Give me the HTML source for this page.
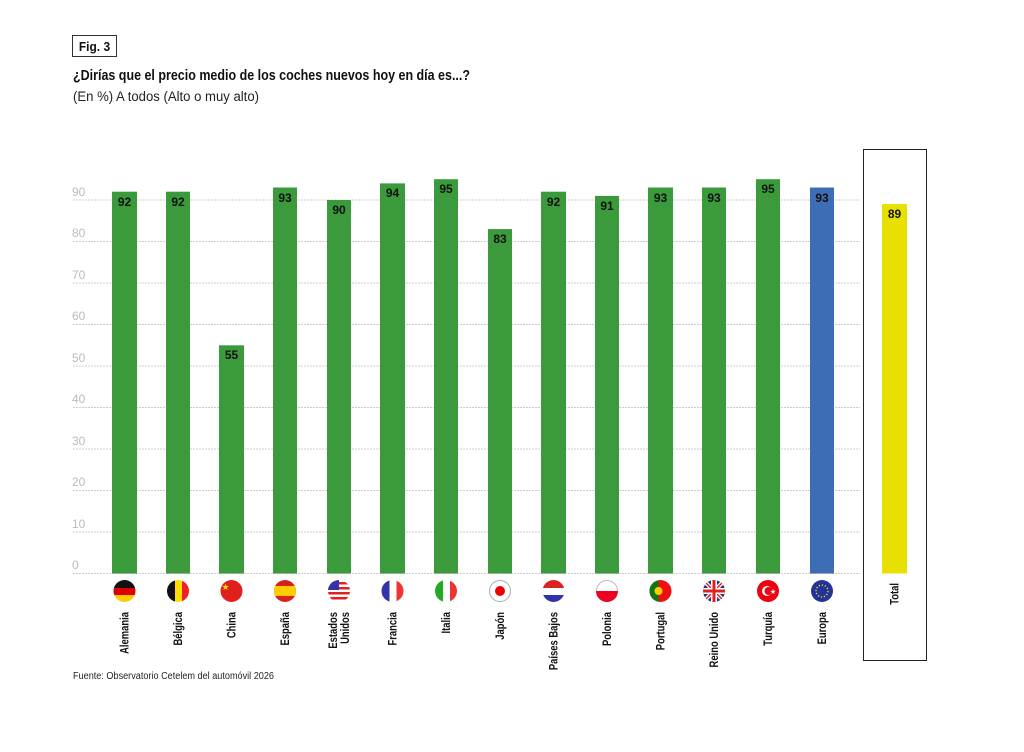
<!DOCTYPE html>
<html><head><meta charset="utf-8"><style>
body{margin:0;background:#fff;}
svg{display:block;font-family:"Liberation Sans",sans-serif;}
</style></head><body>
<svg width="1024" height="752" viewBox="0 0 1024 752" xmlns="http://www.w3.org/2000/svg">
<rect x="72.5" y="35.5" width="44" height="21" fill="#fff" stroke="#333" stroke-width="1"/>
<text x="94.5" y="51" text-anchor="middle" font-size="13" font-weight="bold" fill="#111" transform="translate(94.5,0) scale(0.92,1) translate(-94.5,0)">Fig. 3</text>
<text x="73" y="80" font-size="14.5" font-weight="bold" fill="#111" textLength="397" lengthAdjust="spacingAndGlyphs">¿Dirías que el precio medio de los coches nuevos hoy en día es...?</text>
<text x="73" y="101" font-size="13.5" fill="#222" textLength="186" lengthAdjust="spacingAndGlyphs">(En %) A todos (Alto o muy alto)</text>
<rect x="863.5" y="149.5" width="63" height="511" fill="none" stroke="#222" stroke-width="1"/>
<g stroke="#ccc" stroke-width="1" stroke-dasharray="2,1">
<line x1="73" x2="860" y1="573.5" y2="573.5"/>
<line x1="73" x2="860" y1="532" y2="532"/>
<line x1="73" x2="860" y1="490.5" y2="490.5"/>
<line x1="73" x2="860" y1="449" y2="449"/>
<line x1="73" x2="860" y1="407.5" y2="407.5"/>
<line x1="73" x2="860" y1="366" y2="366"/>
<line x1="73" x2="860" y1="324.5" y2="324.5"/>
<line x1="73" x2="860" y1="283" y2="283"/>
<line x1="73" x2="860" y1="241.5" y2="241.5"/>
<line x1="73" x2="860" y1="200" y2="200"/>
</g>
<g font-size="12" fill="#bbb">
<text x="72" y="569">0</text><text x="72" y="528">10</text><text x="72" y="486">20</text><text x="72" y="445">30</text><text x="72" y="403">40</text><text x="72" y="362">50</text><text x="72" y="320">60</text><text x="72" y="279">70</text><text x="72" y="237">80</text><text x="72" y="196">90</text>
</g>
<g fill="#3a9a3c">
<rect x="112" y="191.7" width="25" height="381.8"/>
<rect x="166" y="191.7" width="24" height="381.8"/>
<rect x="219" y="345.3" width="25" height="228.2"/>
<rect x="273" y="187.5" width="24" height="386"/>
<rect x="327" y="200" width="24" height="373.5"/>
<rect x="380" y="183.4" width="25" height="390.1"/>
<rect x="434" y="179.2" width="24" height="394.3"/>
<rect x="488" y="229.1" width="24" height="344.4"/>
<rect x="541" y="191.7" width="25" height="381.8"/>
<rect x="595" y="195.9" width="24" height="377.6"/>
<rect x="648" y="187.5" width="25" height="386"/>
<rect x="702" y="187.5" width="24" height="386"/>
<rect x="756" y="179.2" width="24" height="394.3"/>
</g>
<rect x="810" y="187.5" width="24" height="386" fill="#3d6db5"/>
<rect x="882" y="204.1" width="25" height="369.4" fill="#e8e000"/>
<g font-size="12" font-weight="bold" fill="#111" text-anchor="middle">
<text x="124.5" y="206">92</text><text x="178" y="206">92</text><text x="231.5" y="359">55</text><text x="285" y="202">93</text><text x="339" y="214">90</text><text x="392.5" y="197">94</text><text x="446" y="193">95</text><text x="500" y="243">83</text><text x="553.5" y="206">92</text><text x="607" y="210">91</text><text x="660.5" y="202">93</text><text x="714" y="202">93</text><text x="768" y="193">95</text><text x="822" y="202">93</text><text x="894.5" y="218">89</text>
</g>
<defs>
<clipPath id="c"><circle cx="0" cy="0" r="11"/></clipPath>
</defs>
<g transform="translate(124.5,591)" clip-path="url(#c)"><rect x="-11" y="-11" width="22" height="8" fill="#111"/><rect x="-11" y="-3" width="22" height="7" fill="#d00"/><rect x="-11" y="4" width="22" height="8" fill="#fc0"/></g>
<g transform="translate(178,591)" clip-path="url(#c)"><rect x="-11" y="-11" width="8" height="22" fill="#111"/><rect x="-3" y="-11" width="7" height="22" fill="#fd0"/><rect x="4" y="-11" width="8" height="22" fill="#e22"/></g>
<g transform="translate(231.5,591)" clip-path="url(#c)"><rect x="-11" y="-11" width="22" height="22" fill="#e0201c"/><text x="-6" y="-1" font-size="9" fill="#fd0" text-anchor="middle">★</text></g>
<g transform="translate(285,591)" clip-path="url(#c)"><rect x="-11" y="-11" width="22" height="22" fill="#d8201c"/><rect x="-11" y="-5" width="22" height="10" fill="#fc0"/></g>
<g transform="translate(339,591)" clip-path="url(#c)"><rect x="-11" y="-11" width="22" height="22" fill="#fff"/><rect x="-11" y="-9" width="22" height="2.5" fill="#d22"/><rect x="-11" y="-4" width="22" height="2.5" fill="#d22"/><rect x="-11" y="1" width="22" height="2.5" fill="#d22"/><rect x="-11" y="6" width="22" height="2.5" fill="#d22"/><rect x="-11" y="-11" width="11" height="10" fill="#33a"/></g>
<g transform="translate(392.5,591)" clip-path="url(#c)"><rect x="-11" y="-11" width="8" height="22" fill="#33a"/><rect x="-3" y="-11" width="7" height="22" fill="#fff"/><rect x="4" y="-11" width="8" height="22" fill="#e33"/></g>
<g transform="translate(446,591)" clip-path="url(#c)"><rect x="-11" y="-11" width="8" height="22" fill="#2a2"/><rect x="-3" y="-11" width="7" height="22" fill="#fff"/><rect x="4" y="-11" width="8" height="22" fill="#e33"/></g>
<g transform="translate(500,591)"><circle r="10.5" fill="#fff" stroke="#aaa"/><circle r="5" fill="#e00"/></g>
<g transform="translate(553.5,591)" clip-path="url(#c)"><rect x="-11" y="-11" width="22" height="8" fill="#d22"/><rect x="-11" y="-3" width="22" height="7" fill="#fff"/><rect x="-11" y="4" width="22" height="8" fill="#33a"/></g>
<g transform="translate(607,591)"><circle r="10.5" fill="#fff" stroke="#bbb"/><g clip-path="url(#c)"><rect x="-11" y="0" width="22" height="11" fill="#e02"/></g></g>
<g transform="translate(660.5,591)" clip-path="url(#c)"><rect x="-11" y="-11" width="22" height="22" fill="#e11"/><rect x="-11" y="-11" width="9" height="22" fill="#171"/><circle cx="-2" cy="0" r="4" fill="#fc0"/></g>
<g transform="translate(714,591)" clip-path="url(#c)"><rect x="-11" y="-11" width="22" height="22" fill="#237"/><path d="M-11,-11L11,11M11,-11L-11,11" stroke="#fff" stroke-width="4"/><path d="M-11,-11L11,11M11,-11L-11,11" stroke="#d22" stroke-width="1.5"/><rect x="-11" y="-3" width="22" height="6" fill="#fff"/><rect x="-3" y="-11" width="6" height="22" fill="#fff"/><rect x="-11" y="-1.5" width="22" height="3" fill="#d22"/><rect x="-1.5" y="-11" width="3" height="22" fill="#d22"/></g>
<g transform="translate(768,591)"><circle r="11" fill="#e01"/><circle cx="-1" r="5" fill="#fff"/><circle cx="0.5" r="4" fill="#e01"/><text x="5" y="3" font-size="7" fill="#fff" text-anchor="middle">★</text></g>
<g transform="translate(822,591)"><circle r="11" fill="#239"/><circle r="6" fill="none" stroke="#fd0" stroke-width="1.3" stroke-dasharray="1.3,1.8"/></g>
<g font-size="11.5" font-weight="bold" fill="#111" text-anchor="end">
<text transform="translate(128.5,612) rotate(-90) scale(0.82,1)">Alemania</text>
<text transform="translate(182,612) rotate(-90) scale(0.82,1)">Bélgica</text>
<text transform="translate(235.5,612) rotate(-90) scale(0.82,1)">China</text>
<text transform="translate(289,612) rotate(-90) scale(0.82,1)">España</text>
<text transform="translate(337,612) rotate(-90) scale(0.82,1)">Estados</text>
<text transform="translate(349,612) rotate(-90) scale(0.82,1)">Unidos</text>
<text transform="translate(396.5,612) rotate(-90) scale(0.82,1)">Francia</text>
<text transform="translate(450,612) rotate(-90) scale(0.82,1)">Italia</text>
<text transform="translate(504,612) rotate(-90) scale(0.82,1)">Japón</text>
<text transform="translate(557.5,612) rotate(-90) scale(0.82,1)">Países Bajos</text>
<text transform="translate(611,612) rotate(-90) scale(0.82,1)">Polonia</text>
<text transform="translate(664.5,612) rotate(-90) scale(0.82,1)">Portugal</text>
<text transform="translate(718,612) rotate(-90) scale(0.82,1)">Reino Unido</text>
<text transform="translate(772,612) rotate(-90) scale(0.82,1)">Turquía</text>
<text transform="translate(826,612) rotate(-90) scale(0.82,1)">Europa</text>
<text transform="translate(898.5,583) rotate(-90) scale(0.82,1)">Total</text>
</g>
<text x="73" y="679" font-size="10" fill="#222" textLength="201" lengthAdjust="spacingAndGlyphs">Fuente: Observatorio Cetelem del automóvil 2026</text>
</svg>
</body></html>
